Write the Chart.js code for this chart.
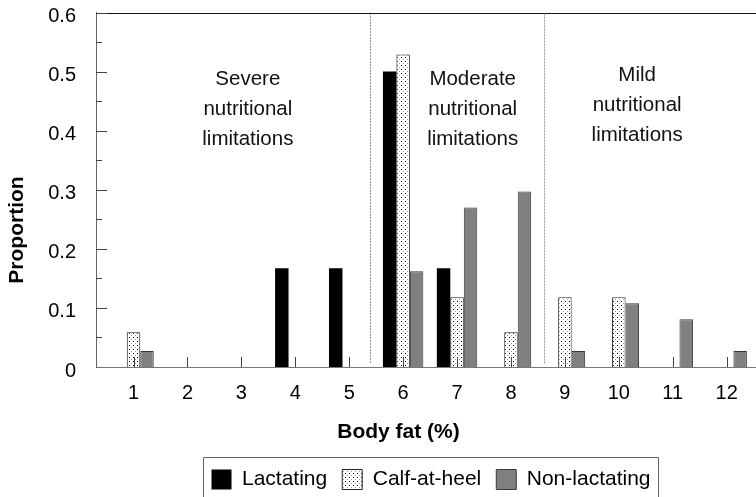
<!DOCTYPE html>
<html><head><meta charset="utf-8">
<script src="https://cdn.jsdelivr.net/npm/chart.js@4/dist/chart.umd.min.js"></script>
<style>html,body{margin:0;padding:0;background:#fff}#wrap{width:756px;height:497px;position:relative}</style>
</head><body><div id="wrap"><canvas id="c" width="756" height="497"></canvas></div>
<script>
// ---- data ----
const categories = [1, 2, 3, 4, 5, 6, 7, 8, 9, 10, 11, 12];
const lactating = [0, 0, 0, 0.167, 0.167, 0.5, 0.167, 0, 0, 0, 0, 0];
const calfAtHeel = [0.059, 0, 0, 0, 0, 0.529, 0.118, 0.059, 0.118, 0.118, 0, 0];
const nonLactating = [0.027, 0, 0, 0, 0, 0.162, 0.270, 0.297, 0.027, 0.108, 0.081, 0.027];
const seriesNames = ['Lactating', 'Calf-at-heel', 'Non-lactating'];
const yTicks = [0, 0.1, 0.2, 0.3, 0.4, 0.5, 0.6];
const zoneBoundaries = [5.39, 8.61];
const zoneLabels = [
  ['Severe', 'nutritional', 'limitations'],
  ['Moderate', 'nutritional', 'limitations'],
  ['Mild', 'nutritional', 'limitations']
];
const xTitle = 'Body fat (%)';
const yTitle = 'Proportion';

// ---- styling ----
const FONT = "'Liberation Sans', Arial, sans-serif";
function makeDots() {
  const c = document.createElement('canvas');
  c.width = 4; c.height = 4;
  const g = c.getContext('2d');
  g.fillStyle = '#fff'; g.fillRect(0, 0, 4, 4);
  g.fillStyle = '#000'; g.fillRect(1, 1, 1, 1);
  g.fillStyle = '#999'; g.fillRect(3, 3, 1, 1);
  return g.createPattern(c, 'repeat');
}
const dots = makeDots();
const toPoints = arr => categories.map((c, i) => ({ x: c, y: arr[i] }));

const zoneTextPos = [
  { x: 3.12, y: 0.487 },
  { x: 7.29, y: 0.487 },
  { x: 10.34, y: 0.493 }
];
const LEGEND_SHIFT = 5;

const overlay = {
  id: 'overlay',
  afterLayout(chart) {
    const lg = chart.legend;
    if (lg) { lg.left += LEGEND_SHIFT; lg.right += LEGEND_SHIFT; }
  },
  afterDatasetsDraw(chart) {
    const { ctx, chartArea: a, scales: { x, y } } = chart;
    ctx.save();
    // top frame line
    ctx.strokeStyle = '#111'; ctx.lineWidth = 1;
    ctx.beginPath(); ctx.moveTo(a.left, Math.round(a.top) + 0.5); ctx.lineTo(a.right, Math.round(a.top) + 0.5); ctx.stroke();
    // x tick marks (inside)
    ctx.strokeStyle = '#444';
    categories.forEach(c => {
      const px = Math.round(x.getPixelForValue(c)) + 0.5;
      ctx.beginPath(); ctx.moveTo(px, a.bottom); ctx.lineTo(px, a.bottom - 10); ctx.stroke();
    });
    // y tick marks (inside), major + minor
    for (let i = 0; i < yTicks.length; i++) {
      const py = Math.round(y.getPixelForValue(yTicks[i])) + 0.5;
      if (i > 0) { ctx.beginPath(); ctx.moveTo(a.left, py); ctx.lineTo(a.left + 11, py); ctx.stroke(); }
      if (i < yTicks.length - 1) {
        const pm = Math.round(y.getPixelForValue((yTicks[i] + yTicks[i + 1]) / 2)) + 0.5;
        ctx.beginPath(); ctx.moveTo(a.left, pm); ctx.lineTo(a.left + 6, pm); ctx.stroke();
      }
    }
    // zone dividers
    const divStyles = [{ c: '#222', d: [1, 2] }, { c: '#999', d: [2, 1] }];
    zoneBoundaries.forEach((b, i) => {
      const px = Math.round(x.getPixelForValue(b)) + 0.5;
      ctx.strokeStyle = divStyles[i].c; ctx.setLineDash(divStyles[i].d);
      ctx.beginPath(); ctx.moveTo(px, a.top + 1); ctx.lineTo(px, a.bottom - 3); ctx.stroke();
    });
    ctx.setLineDash([]);
    // zone labels
    ctx.fillStyle = '#111'; ctx.font = '20.5px ' + FONT;
    ctx.textAlign = 'center'; ctx.textBaseline = 'middle';
    zoneLabels.forEach((lines, i) => {
      const cx = x.getPixelForValue(zoneTextPos[i].x);
      const cy = y.getPixelForValue(zoneTextPos[i].y);
      lines.forEach((t, j) => ctx.fillText(t, cx, cy + j * 30));
    });
    // axis titles
    ctx.fillStyle = '#000'; ctx.font = 'bold 21px ' + FONT;
    ctx.fillText(xTitle, 398.5, 432);
    ctx.save(); ctx.translate(17, 230); ctx.rotate(-Math.PI / 2); ctx.fillText(yTitle, 0, 0); ctx.restore();
    ctx.restore();
  },
  afterDraw(chart) {
    const lg = chart.legend;
    if (!lg || !lg.legendHitBoxes || !lg.legendHitBoxes.length) return;
    const hb = lg.legendHitBoxes;
    const first = hb[0], last = hb[hb.length - 1];
    const { ctx } = chart;
    ctx.save();
    ctx.strokeStyle = '#666'; ctx.lineWidth = 1;
    const l = Math.round(first.left - 8) + 0.5, r = Math.round(last.left + last.width + 7) + 0.5;
    const t = Math.round(first.top - 12) + 0.5;
    ctx.beginPath(); ctx.moveTo(l, 500); ctx.lineTo(l, t); ctx.lineTo(r, t); ctx.lineTo(r, 500); ctx.stroke();
    ctx.restore();
  }
};

new Chart(document.getElementById('c'), {
  type: 'bar',
  data: {
    datasets: [
      { label: seriesNames[0], data: toPoints(lactating), backgroundColor: '#000', borderColor: '#000', borderWidth: 0 },
      { label: seriesNames[1], data: toPoints(calfAtHeel), backgroundColor: dots, borderColor: '#222', borderWidth: 1 },
      { label: seriesNames[2], data: toPoints(nonLactating), backgroundColor: '#808080', borderColor: '#3a3a3a', borderWidth: 1 }
    ]
  },
  options: {
    responsive: false,
    animation: false,
    devicePixelRatio: 1,
    categoryPercentage: 0.75,
    barPercentage: 1,
    layout: { padding: { top: 12.5, right: 0, bottom: 0, left: 0 } },
    plugins: {
      tooltip: { enabled: false },
      legend: {
        position: 'bottom',
        fullSize: false,
        maxHeight: 43,
        labels: {
          boxWidth: 20, boxHeight: 20, padding: 15, color: '#000',
          font: { family: FONT, size: 21 }
        }
      }
    },
    scales: {
      x: {
        type: 'linear', min: 0.304, max: 12.544, offset: false,
        grid: { display: false, drawTicks: false },
        border: { display: true, color: '#777', width: 1 },
        ticks: {
          stepSize: 1, includeBounds: false, autoSkip: false, maxRotation: 0,
          padding: 14, color: '#000', font: { family: FONT, size: 20 },
          callback: v => categories.includes(v) ? String(v) : ''
        },
        afterFit: s => { s.height = 87; s.paddingLeft = 0; s.paddingRight = 0; }
      },
      y: {
        min: 0, max: 0.6,
        grid: { display: false, drawTicks: false },
        border: { display: true, color: '#666', width: 1 },
        ticks: {
          stepSize: 0.1, padding: 20, labelOffset: 4, color: '#000',
          font: { family: FONT, size: 20 },
          callback: v => { const r = Math.round(v * 10) / 10; return yTicks.includes(r) ? (r === 0 ? '0' : r.toFixed(1)) : ''; }
        },
        afterFit: s => { s.width = 96; s.paddingTop = 0; s.paddingBottom = 0; }
      }
    }
  },
  plugins: [overlay]
});
</script>
</body></html>
